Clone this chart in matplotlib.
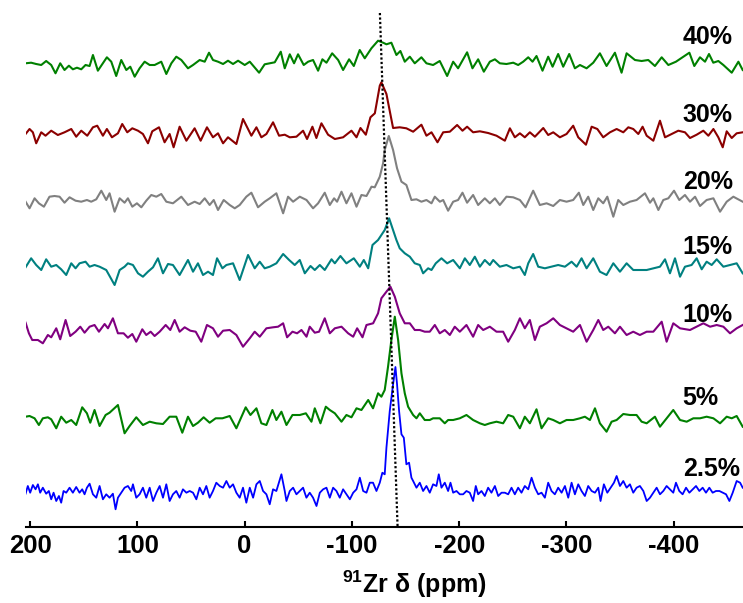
import numpy as np
import matplotlib.pyplot as plt

plt.rcParams['font.family'] = ['Liberation Sans', 'DejaVu Sans']
plt.rcParams['font.weight'] = 'bold'
plt.rcParams['axes.unicode_minus'] = False
plt.rcParams['mathtext.fontset'] = 'custom'
plt.rcParams['mathtext.rm'] = 'Liberation Sans:bold'
plt.rcParams['mathtext.bf'] = 'Liberation Sans:bold'

# 91Zr spectra: shift (ppm) and intensity above each baseline
shift_40 = [204.2, 199.0, 194.3, 189.6, 185.0, 180.3, 176.3, 171.9, 167.9, 163.8, 160.1, 156.3, 152.3, 148.3,
            144.5, 141.4, 136.8, 132.1, 128.4, 124.3, 119.7, 115.0, 110.3, 106.6, 102.5, 97.9, 93.2, 88.5,
            83.9, 77.7, 73.0, 68.3, 63.7, 59.0, 52.8, 48.1, 41.9, 37.2, 33.2, 29.5, 24.8, 20.1, 15.5, 10.8,
            6.1, -0.1, -4.8, -13.5, -18.7, -23.4, -28.1, -33.7, -37.4, -42.1, -46.1, -49.8, -55.1, -59.2,
            -63.8, -68.5, -72.5, -76.3, -81.6, -87.2, -91.8, -97.4, -101.8, -107.3, -112.0, -118.2, -124.4,
            -129.1, -132.2, -136.8, -141.5, -145.2, -149.3, -154.0, -158.6, -164.8, -169.5, -175.7, -181.9,
            -188.8, -194.4, -199.0, -207.4, -212.4, -217.7, -223.0, -228.6, -233.3, -237.9, -244.1, -250.4,
            -255.0, -259.7, -264.4, -268.4, -272.1, -277.7, -283.0, -287.1, -292.3, -297.0, -302.6, -307.9,
            -312.6, -318.8, -325.0, -331.2, -337.4, -345.2, -351.4, -356.1, -363.9, -370.1, -376.3, -382.5,
            -388.8, -395.0, -402.1, -409.0, -414.6, -419.2, -424.5, -429.2, -432.9, -436.9, -441.6, -446.3,
            -454.1, -460.3, -464.3]
signal_40 = [1.7, 2.3, 1.0, 0.0, 4.0, 0.0, -8.3, 1.7, -5.0, -0.7, -4.3, -2.7, -4.3, 0.0,
             -1.0, 10.0, -5.7, 1.7, 7.7, 3.3, -11.0, 5.0, -5.0, -1.7, -11.7, -3.3, 3.3, 0.0,
             0.0, 3.3, -9.0, 1.7, 8.3, 5.0, -3.3, 0.0, 5.0, 3.3, 12.3, 5.0, 3.3, 1.0, 4.3, 1.0,
             4.3, 0.0, 3.3, -7.7, 0.7, 1.7, 2.7, 13.3, -3.3, 10.7, 1.7, 10.7, 0.0, 3.3,
             5.0, -5.7, 5.7, 2.3, 11.7, 5.0, -5.0, 5.7, -1.0, 15.0, 6.7, 16.7, 24.3,
             22.3, 20.7, 22.3, 10.0, 14.0, 3.3, 8.3, 1.7, 7.7, 1.7, 0.0, 4.0,
             -11.0, 3.3, -3.3, 12.7, -3.3, 5.7, -6.7, 3.3, 5.7, 1.7, 1.0, 2.3,
             0.0, 3.3, 7.7, 3.3, 9.0, -5.7, 8.3, -1.7, 11.0, -1.7, 11.0, -3.3,
             0.0, -3.3, 2.3, 11.7, -1.0, 12.3, -7.7, 11.7, 5.0, 4.0, 5.0, -1.0,
             7.7, 0.0, 3.3, 8.3, 12.3, -1.0, 7.7, 3.3, 11.0, 2.3, 4.0, 0.0,
             -7.7, 3.3, -5.0]

shift_30 = [204.2, 200.5, 197.4, 194.3, 189.6, 185.6, 180.3, 174.1, 167.9, 161.6, 157.0, 152.3, 146.7, 141.4,
            137.4, 132.1, 128.4, 123.7, 118.1, 114.1, 109.4, 104.7, 99.4, 94.8, 90.1, 86.1, 79.8, 74.6,
            69.9, 66.2, 60.6, 54.3, 46.6, 41.0, 35.1, 29.5, 24.8, 20.1, 15.5, 7.7, 1.5, -6.3, -11.0, -15.6,
            -20.3, -26.5, -32.1, -37.4, -42.1, -48.3, -54.5, -58.2, -63.2, -66.9, -71.6, -77.8, -84.1, -91.8,
            -99.6, -104.3, -108.0, -113.0, -117.3, -121.4, -126.0, -127.5, -132.2, -135.9, -138.4, -144.6,
            -150.8, -157.1, -164.8, -169.5, -174.2, -179.8, -185.1, -191.3, -198.1, -203.1, -207.4, -213.0,
            -219.3, -227.0, -234.8, -242.6, -247.3, -251.9, -256.6, -261.2, -265.9, -270.6, -278.4, -283.0,
            -287.7, -293.9, -300.1, -306.3, -311.0, -318.2, -323.5, -328.8, -334.3, -340.6, -346.8, -353.0,
            -357.7, -362.3, -367.0, -371.0, -374.8, -381.0, -387.2, -391.9, -398.1, -404.3, -410.5, -415.2,
            -421.4, -427.6, -432.3, -437.0, -441.6, -445.7, -449.4, -454.1, -458.7, -464.3]
signal_30 = [-1.0, 4.0, 0.7, -10.3, 0.7, -2.7, 2.3, -2.0, 0.7, 4.0, -3.7, 2.3, -2.7, 5.7,
             7.3, -2.7, 4.0, -4.3, -0.3, 9.0, 0.7, 4.7, 2.3, -1.0, -10.3, 1.7, 5.7, -9.3,
             -1.0, -14.3, 6.3, -7.7, 4.7, -7.7, 5.7, -4.3, -0.3, -10.3, -4.3, -11.0, 14.0, -2.7, 5.7, -4.3,
             -1.0, 10.7, -2.7, -1.7, -4.3, -3.7, 2.3, -6.0, 6.3, -5.0, 9.7, -1.7, -6.0, -4.3,
             2.3, -4.3, 5.0, -1.7, 15.7, 19.7, 47.3, 50.7, 39.0, 19.0, 5.0, 5.7,
             4.7, 1.3, 8.3, -2.7, 0.7, -9.3, 0.7, 1.3, 8.0, 2.3, 6.3, 0.7,
             1.7, 0.0, -2.7, -7.7, 4.7, -4.3, -0.3, -4.3, 0.7, -3.7, 5.0, -2.0,
             0.7, -4.3, -1.0, 7.3, -4.3, -11.7, 6.3, 4.0, -4.3, 0.7, 4.0, 0.7,
             5.7, 4.0, -1.0, 6.3, -2.7, -7.7, 12.3, -4.3, -1.0, 2.3, 0.7, -5.0,
             -1.7, 2.3, -2.7, 4.0, -4.3, -14.3, 1.7, -5.0, -0.3, 0.7]

shift_20 = [204.2, 200.5, 195.8, 191.8, 187.1, 181.9, 177.2, 172.5, 167.9, 163.2, 157.6, 152.3, 147.0, 143.0,
            138.3, 133.6, 129.0, 125.9, 121.2, 116.5, 111.9, 108.8, 104.7, 100.4, 96.3, 91.7, 87.0, 82.3,
            77.7, 73.0, 66.8, 59.0, 52.8, 46.6, 41.9, 37.2, 32.6, 28.8, 24.8, 19.5, 13.9, 9.2, 4.6, -1.6,
            -6.3, -12.5, -18.7, -23.4, -29.6, -35.9, -40.5, -45.2, -51.4, -57.7, -63.8, -68.5, -74.7, -79.4,
            -83.4, -86.2, -90.3, -94.9, -99.6, -104.3, -108.9, -113.6, -118.3, -121.3, -126.0, -129.1, -130.6,
            -134.4, -138.4, -142.1, -146.2, -150.8, -155.5, -160.2, -164.8, -169.5, -174.2, -177.3, -182.0,
            -185.1, -189.7, -194.4, -199.0, -203.1, -207.4, -213.0, -217.7, -223.9, -228.6, -233.3, -237.9,
            -244.1, -250.4, -256.6, -261.9, -269.0, -275.2, -281.5, -287.7, -293.9, -300.1, -306.3, -311.6,
            -315.7, -320.3, -325.0, -329.7, -334.3, -338.1, -343.7, -348.3, -353.0, -359.2, -365.4, -373.2,
            -377.9, -381.0, -385.7, -390.3, -395.0, -400.3, -405.2, -410.5, -415.2, -419.9, -424.5, -430.7,
            -437.0, -443.2, -449.4, -455.6, -464.3]
signal_20 = [-1.7, -8.3, 1.7, -3.3, -6.7, 3.3, 4.0, 3.3, -2.7, 2.7, -0.7, -1.7, 0.0, -1.7,
             0.7, 9.3, 0.0, 6.7, -11.7, 1.7, -2.7, 1.7, -6.7, -3.3, -7.3, -0.7, 5.0, 3.3,
             6.0, -1.7, -3.3, 3.3, -5.0, -1.7, -4.0, 1.7, -5.0, 0.0, -10.0, 0.0, -5.0, -8.3, -5.0, 3.3,
             7.3, -7.3, -1.7, 1.7, 6.7, -13.3, 3.3, -1.7, 3.3, 0.0, -8.3, -3.3, 7.3, -5.0,
             1.7, -1.7, 8.3, -3.3, 6.7, -6.7, 5.0, 4.0, 13.3, 12.7, 23.3, 36.7, 50.0,
             64.0, 50.0, 31.7, 18.3, 15.0, 0.0, 0.7, -1.7, 0.0, -3.3, 3.3, -1.7,
             0.0, -10.7, -1.7, 0.0, 7.3, -2.7, 5.0, -5.0, 1.7, -3.3, 1.7, -5.0,
             3.3, 2.7, 0.0, -7.3, 9.3, -5.0, -3.3, -6.0, 0.0, -1.7, 0.0, 7.3,
             -5.0, 3.3, -10.0, 1.7, -3.3, 3.3, -16.7, 0.0, -5.0, -1.7, 0.0, 6.7,
             -2.7, 1.7, -10.0, 0.0, 1.7, 9.3, 0.0, 5.0, -1.7, 3.3, -6.0, 0.0,
             1.7, -11.7, -1.7, 3.3, -1.7]

shift_15 = [204.2, 199.0, 194.3, 189.6, 185.0, 180.3, 175.6, 171.0, 166.3, 161.6, 157.6, 153.9, 148.3, 144.5,
            139.9, 135.2, 129.0, 121.2, 116.5, 111.9, 108.8, 104.1, 99.4, 94.8, 90.1, 85.4, 80.8, 76.1,
            71.4, 66.8, 60.6, 52.8, 48.1, 43.5, 38.8, 34.1, 29.5, 25.7, 20.7, 17.0, 10.8, 4.6, -3.2, -9.4,
            -14.1, -18.7, -23.4, -29.6, -35.9, -41.5, -46.7, -51.4, -56.1, -61.4, -65.4, -70.1, -74.7, -81.0,
            -84.1, -89.3, -94.9, -101.8, -107.4, -111.1, -115.2, -119.2, -124.4, -127.5, -130.6, -134.7,
            -138.4, -141.5, -144.6, -149.3, -154.0, -158.6, -163.3, -166.4, -171.1, -174.2, -178.2, -183.5,
            -188.8, -194.4, -200.6, -205.3, -209.9, -214.6, -219.3, -223.9, -228.6, -231.7, -237.9, -244.1,
            -250.4, -256.6, -261.2, -264.4, -269.0, -273.7, -279.9, -286.1, -292.3, -298.6, -304.8, -309.5,
            -314.1, -318.8, -325.0, -331.2, -337.4, -343.7, -349.9, -356.1, -362.3, -368.5, -374.8, -381.0,
            -387.2, -391.9, -396.5, -401.2, -405.9, -410.5, -416.7, -421.4, -426.1, -430.7, -435.4, -440.1,
            -446.3, -452.5, -458.7, -464.3]
signal_15 = [-2.3, 6.7, 0.0, -5.0, 5.7, -1.7, 0.0, -4.3, -10.0, 1.7, -3.3, 1.7, 3.3, -1.7,
             0.0, -1.7, -5.0, -20.0, -5.0, -1.7, 1.7, 0.0, -8.3, -11.7, -6.7, -2.3, 6.7, -8.3,
             1.0, 0.0, -10.0, 5.0, -6.7, 1.7, -10.0, -6.7, -10.0, 6.7, -3.3, 0.0, 1.7, -15.0, 10.0, -3.3,
             3.3, -3.3, -1.7, 1.7, 11.0, 5.0, 0.0, 5.0, -8.3, -1.0, -5.0, 0.0, -5.0, 5.7,
             1.7, 9.0, 1.7, 6.7, -1.7, 5.0, -3.3, 20.0, 25.0, 30.0, 35.0, 46.7,
             35.0, 25.0, 16.7, 11.7, 8.3, 1.7, 0.0, -8.3, -3.3, -5.0, 1.7, 6.7,
             1.7, 5.0, -3.3, 6.7, 0.0, 8.3, -1.7, 5.0, 0.0, 5.0, -1.7, 0.0,
             -3.3, -1.7, -10.0, 1.7, 11.0, -1.7, -3.3, -1.7, 0.0, -1.7, 3.3, -1.7,
             6.7, -3.3, 6.7, -6.7, -10.0, 1.7, -6.7, 1.7, -5.0, -5.0, -5.0, -3.3,
             -1.7, 5.7, -8.3, 6.7, -11.7, -1.7, 0.0, 6.7, -4.3, 3.3, 0.0, 5.7,
             -1.7, 0.0, 1.7, -8.3]

shift_10 = [204.2, 201.1, 198.0, 192.7, 188.1, 183.4, 180.3, 175.6, 171.9, 166.9, 162.6, 157.6, 153.2, 149.2,
            144.5, 139.9, 135.8, 130.5, 127.4, 122.8, 118.1, 112.8, 108.8, 104.7, 101.0, 95.4, 91.7, 87.6,
            83.9, 79.2, 73.6, 69.3, 65.2, 60.6, 55.9, 50.6, 45.6, 40.4, 35.1, 29.5, 24.8, 20.1, 13.9, 7.7,
            1.5, -4.8, -9.4, -14.1, -20.3, -26.5, -31.2, -35.9, -39.6, -44.6, -48.9, -53.0, -57.7, -60.7,
            -65.4, -69.4, -74.7, -79.4, -84.1, -90.3, -96.5, -101.2, -104.9, -109.9, -113.6, -119.8, -124.4,
            -127.5, -132.2, -135.9, -140.0, -144.6, -149.3, -154.0, -158.6, -163.3, -167.9, -172.6, -177.3,
            -181.9, -186.6, -191.3, -195.9, -200.6, -206.8, -213.0, -217.7, -222.4, -228.6, -234.8, -241.0,
            -245.7, -251.9, -256.6, -261.2, -265.9, -270.6, -275.2, -281.5, -287.7, -293.9, -300.1, -306.3,
            -312.6, -318.8, -325.0, -329.7, -334.3, -339.0, -345.2, -349.9, -356.1, -362.3, -368.5, -374.8,
            -381.0, -388.8, -393.4, -399.6, -405.9, -415.2, -421.4, -427.6, -433.9, -440.1, -446.3, -452.5,
            -458.7, -464.3]
signal_10 = [7.3, -3.3, -10.0, -10.0, -13.3, -5.0, -7.3, 1.7, -9.3, 10.0, -6.0, -1.7, 3.3, -2.7,
             3.3, 5.0, -1.7, 6.0, 1.7, 11.7, -3.3, -3.3, -7.7, -4.0, -11.7, 0.7, -5.0, -1.7,
             -6.0, -1.7, 5.0, 0.0, 10.0, -1.7, 2.7, -0.7, -1.7, -11.7, 5.0, 1.7, -6.7, -0.7, 0.0, -5.0,
             -16.7, -8.3, -1.7, -6.7, 1.7, 2.7, 3.3, 6.7, -7.3, -1.7, -3.3, 0.0, -6.7, 3.3,
             -2.7, -1.7, 11.7, -3.3, 1.7, 3.3, -3.3, -6.7, 1.7, -7.3, 5.0, 6.7, 16.7,
             31.7, 38.3, 43.3, 33.3, 16.7, 6.7, 6.7, 0.0, 0.0, -1.7, -1.7, 5.0,
             -3.3, 0.0, -5.0, 3.3, -1.7, 5.0, -6.7, 5.0, 0.0, 3.3, -1.7, -1.7,
             -11.7, 0.0, 11.7, 1.7, 10.0, -10.0, 3.3, 6.7, 11.7, 5.0, 1.7, -1.7,
             5.0, -11.7, 0.0, 10.0, 0.0, 3.3, -3.3, 3.3, -5.0, -1.7, -5.0, -1.7,
             -1.7, 8.3, -11.7, 6.7, 1.7, 0.0, 3.3, 6.7, 3.3, 5.0, 3.3, -3.3,
             1.7, 5.0]

shift_5 = [204.2, 200.5, 195.8, 191.8, 188.1, 183.4, 180.3, 175.6, 171.0, 166.3, 161.6, 157.0, 151.4, 147.0,
           143.9, 139.9, 135.2, 129.6, 125.9, 118.1, 111.9, 107.2, 101.0, 94.8, 88.5, 82.3, 76.1, 69.9,
           63.7, 58.1, 52.8, 48.1, 43.5, 38.2, 32.6, 27.0, 20.7, 13.9, 7.7, -1.0, -5.4, -11.0, -15.6,
           -20.3, -25.9, -29.6, -34.3, -39.0, -44.6, -51.4, -57.1, -62.3, -65.4, -70.7, -75.7, -79.4, -84.1,
           -90.3, -94.9, -99.6, -104.3, -108.9, -115.2, -119.7, -124.4, -127.5, -130.6, -133.7, -136.8,
           -140.0, -143.1, -146.2, -149.3, -152.4, -157.1, -160.2, -163.3, -167.9, -172.6, -175.7, -181.9,
           -186.6, -189.7, -194.4, -200.6, -206.8, -213.0, -219.3, -223.9, -228.6, -234.8, -241.0, -245.7,
           -250.4, -256.6, -261.2, -265.9, -272.1, -276.8, -283.0, -287.7, -293.9, -300.1, -306.3, -312.6,
           -317.2, -321.9, -326.6, -331.2, -337.4, -342.1, -346.8, -353.0, -359.2, -365.4, -370.1, -374.8,
           -382.5, -387.2, -393.4, -399.6, -405.9, -412.1, -418.3, -424.5, -430.7, -437.0, -443.2, -449.4,
           -454.1, -458.7, -464.3]
signal_5 = [1.3, 2.0, -0.3, -7.0, -0.3, 0.7, -1.3, -10.3, 1.3, -4.7, -2.0, -7.0, 10.7, 4.7,
            -4.7, 8.0, -8.0, 3.0, 5.3, 13.0, -15.3, -8.0, 0.7, -7.0, -3.7, -5.3, -6.0, 1.3,
            1.3, -14.7, 1.3, -8.0, -4.7, 0.7, -4.7, -0.3, -0.3, 2.0, -10.3, 10.7, 3.0, 9.7, -5.3,
            -7.0, 8.0, -2.0, 6.3, -7.0, 3.0, 3.0, 4.7, -3.7, 9.7, -5.3, 11.3, 8.0, 4.7,
            -3.7, 3.0, 0.7, 9.7, 8.0, 18.0, 9.7, 24.7, 21.3, 28.0, 51.3, 78.0,
            101.3, 78.0, 44.7, 24.7, 11.3, 3.0, -0.3, 4.7, -2.0, -2.0, -0.3, -0.3,
            -5.3, -2.0, -2.0, -0.3, 3.0, -2.0, -5.3, -7.0, -5.3, -3.7, -5.3, 3.0,
            1.3, -10.3, 1.3, -5.3, 8.7, -10.3, -0.3, -2.0, -5.3, -2.0, -2.0, -0.3,
            1.3, -2.0, 9.7, -5.3, -13.7, -3.7, -2.0, 4.0, 3.0, 3.0, -3.7, -5.3,
            1.3, -8.7, -0.3, 8.0, -2.0, -3.7, -0.3, -0.3, 1.3, -0.3, -5.3, 1.3,
            -0.3, 2.0, -8.7]

shift_2p5 = [204.2, 202.1, 199.9, 197.4, 194.9, 192.7, 190.6, 188.1, 185.0, 182.5, 180.3, 178.1, 175.6, 173.1,
             171.0, 168.8, 166.3, 163.2, 160.1, 157.0, 153.9, 151.4, 149.2, 147.0, 144.5, 141.4, 138.3, 135.2,
             132.1, 129.0, 125.9, 122.8, 120.3, 118.1, 115.0, 111.9, 108.8, 105.7, 104.1, 101.0, 97.9, 94.8,
             91.7, 88.5, 85.4, 82.3, 79.2, 76.1, 73.0, 69.9, 66.8, 63.7, 60.6, 57.5, 54.3, 51.2, 48.1, 45.0,
             41.9, 38.8, 35.7, 32.6, 29.5, 26.4, 23.2, 20.1, 17.0, 13.9, 10.8, 7.7, 4.6, 1.5, -1.6, -4.8,
             -7.9, -11.0, -14.1, -17.2, -20.3, -23.4, -26.5, -29.6, -34.3, -37.4, -39.0, -42.1, -45.2, -48.3,
             -51.4, -54.5, -57.6, -60.7, -63.8, -67.0, -70.1, -73.2, -76.3, -79.4, -82.5, -85.6, -88.7, -91.8,
             -94.9, -98.1, -101.2, -104.3, -107.4, -110.5, -113.6, -116.7, -119.7, -122.9, -126.0, -128.4,
             -130.6, -132.2, -135.3, -138.4, -140.6, -142.1, -144.0, -146.2, -148.4, -150.8, -153.3, -155.5,
             -157.1, -160.2, -163.3, -166.4, -169.5, -172.6, -175.7, -178.8, -181.0, -183.5, -186.6, -189.7,
             -191.9, -194.4, -197.5, -200.6, -203.7, -206.8, -209.9, -213.0, -215.5, -217.7, -220.8, -223.9,
             -227.0, -230.1, -233.3, -236.4, -239.5, -242.6, -245.7, -248.8, -251.9, -255.0, -258.1, -261.2,
             -264.4, -267.5, -270.6, -273.7, -276.8, -279.9, -283.0, -286.1, -289.2, -292.3, -295.5, -298.6,
             -301.7, -304.8, -307.9, -311.0, -314.1, -317.2, -320.3, -323.5, -326.6, -329.7, -331.8, -334.9,
             -338.1, -341.2, -344.3, -346.8, -349.9, -353.0, -356.1, -359.2, -362.3, -365.4, -368.5, -371.7,
             -374.8, -377.9, -381.0, -384.1, -387.2, -390.3, -393.4, -396.5, -399.6, -402.1, -405.2, -408.3,
             -411.5, -414.6, -417.7, -420.8, -423.9, -427.0, -430.1, -433.2, -436.3, -439.4, -442.6, -445.7,
             -448.8, -451.9, -455.0, -458.7, -461.9, -464.3]
signal_2p5 = [-0.7, 7.0, 0.3, 8.0, 3.7, 8.7, 0.3, 5.3, -0.7, 2.0, -6.3, 0.3, -8.0, -3.0,
              -9.7, 2.0, 0.3, 5.3, 0.3, 6.0, 0.3, 3.7, -1.3, 5.3, 9.3, -1.3, -4.7, 7.0,
              -6.3, -1.3, -4.7, -0.7, -16.3, -4.7, 0.3, 5.3, 7.0, 2.0, 8.7, -4.7, -1.3, 5.3,
              -4.7, 5.3, -8.0, 0.3, 7.0, -4.7, 8.7, -8.0, -1.3, 2.0, -4.7, 3.7, 0.3, 2.0, 0.3, -6.3,
              5.3, -1.3, 7.0, -4.7, 2.0, 10.3, 7.0, 5.3, 12.0, 5.3, 8.7, 0.3, -4.7, 5.3, -9.7, 5.3,
              -4.7, 8.7, 12.0, 2.0, -1.3, -11.3, 3.7, 2.0, 18.7, 2.0, -8.0, 2.0, 5.3, -1.3,
              2.0, 5.3, -4.7, 0.3, -4.7, -13.0, 0.3, 3.7, 5.3, -4.7, 5.3, 2.0, -4.7, 3.7,
              -1.3, -6.3, 0.3, 3.7, 15.3, 2.0, 0.3, 10.3, 10.3, 2.0, 10.3, 20.3,
              18.7, 45.3, 82.0, 108.7, 126.0, 108.7, 82.0, 58.7, 55.3, 28.7, 30.3, 15.3,
              12.0, 5.3, 10.3, 2.0, 7.0, 0.3, 8.7, 7.0, 18.7, 5.3, 10.3, 2.0,
              10.3, 0.3, 2.0, -1.3, -1.3, 2.0, 0.3, -8.0, 7.0, -1.3, 2.0, -3.0,
              5.3, 0.3, 7.0, -3.0, 0.3, 0.3, -1.3, 5.3, -1.3, 5.3, 0.3, 7.0,
              3.7, 15.3, 5.3, -1.3, 0.3, -4.7, 10.3, 2.0, -1.3, 5.3, 0.3, 7.0,
              -4.7, 10.3, -1.3, 8.7, 2.0, -3.0, 7.0, 2.0, 0.3, 5.3, -8.0, 8.7,
              0.3, 5.3, 10.3, 17.0, 7.0, 12.0, 5.3, 8.7, 0.3, 5.3, 7.0, 2.0,
              -8.0, -4.7, 0.3, 5.3, -1.3, 2.0, 7.0, 3.7, 0.3, 10.3, 2.0, -1.3,
              5.3, 0.3, 3.7, 7.0, 2.0, 5.3, 0.3, 5.3, 0.3, 2.0, 2.0, 0.3,
              -1.3, -8.0, 0.3, 12.0, 10.3, 5.3]

labels = ['40%', '30%', '20%', '15%', '10%', '5%', '2.5%']
shifts = [shift_40, shift_30, shift_20, shift_15, shift_10, shift_5, shift_2p5]
signals = [signal_40, signal_30, signal_20, signal_15, signal_10, signal_5, signal_2p5]
colors = ['#008000', '#8b0000', '#808080', '#008080', '#800080', '#008000', '#0000ff']
offsets = [462, 394, 327, 262, 197, 109, 34]
label_y = [490, 412, 345, 280, 212, 129, 58]

fig = plt.figure(figsize=(7.43, 6.03), dpi=100)
ax = fig.add_axes([26 / 743, 76 / 603, 776 / 743, 527 / 603])

for x, y, c, off, lab, ly in zip(shifts, signals, colors, offsets, labels, label_y):
    ax.plot(x, np.array(y) + off, color=c, lw=1.5 if lab != '2.5%' else 1.3,
            solid_joinstyle='round')
    ax.text(-408.4, ly, lab, ha='left', va='center', fontsize=18, fontweight='bold')

# guide line through the peak maxima
ax.plot([-126.1, -142.6], [514, 0], color='black', lw=1.6, ls=(0, (1, 1)), zorder=5, clip_on=False)

ax.set_xlim(203.8, -519.6)
ax.set_ylim(0, 527)
ax.set_xticks([200, 100, 0, -100, -200, -300, -400])
ax.set_xticklabels(['200', '100', '0', '-100', '-200', '-300', '-400'])
ax.set_yticks([])
for side in ['left', 'right', 'top']:
    ax.spines[side].set_visible(False)
ax.spines['bottom'].set_linewidth(1.5)
ax.tick_params(axis='x', direction='in', length=4.5, width=1.5, labelsize=18.5, pad=5)
ax.set_xlabel('$^{91}$Zr δ (ppm)', fontsize=18, fontweight='bold', labelpad=8)

fig.savefig('out.png', dpi=100)
